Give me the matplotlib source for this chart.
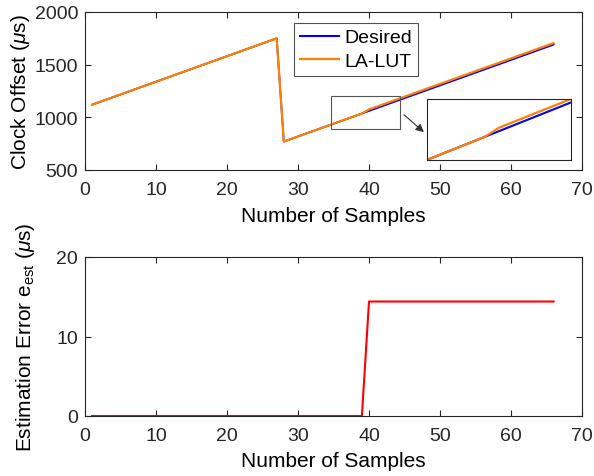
import matplotlib
matplotlib.use("Agg")
import matplotlib.pyplot as plt
from matplotlib.patches import Rectangle, FancyArrowPatch

plt.rcParams['font.family'] = ['Liberation Sans', 'DejaVu Sans']
plt.rcParams['mathtext.fontset'] = 'custom'
plt.rcParams['mathtext.rm'] = 'Liberation Sans'
plt.rcParams['mathtext.it'] = 'Liberation Sans:italic'

# Data (breakpoints of piecewise-linear series)
desired_x = [1, 27, 28, 66]
desired_y = [1120, 1750, 770, 1690]
lalut_x = [1, 27, 28, 39, 40, 66]
lalut_y = [1120, 1750, 770, 1036, 1075, 1705]
err_x = [1, 39, 40, 66]
err_y = [0, 0, 14.4, 14.4]

xticks = [0, 10, 20, 30, 40, 50, 60, 70]
top_yticks = [500, 1000, 1500, 2000]
bot_yticks = [0, 10, 20]

BLUE = '#0000FF'
ORANGE = '#FF8000'
RED = '#FF0000'
AXC = '#262626'

W, H = 594, 477
fig = plt.figure(figsize=(W / 100, H / 100), dpi=100)

def box(l, t, r, b):
    return [l / W, 1 - b / H, (r - l) / W, (b - t) / H]

def style(ax):
    for s in ax.spines.values():
        s.set_color(AXC)
        s.set_linewidth(0.8)
    ax.tick_params(direction='in', top=True, right=True, length=4, width=0.8,
                   colors=AXC, labelcolor='#262626', labelsize=14)
    ax.tick_params(axis='x', pad=8)
    ax.tick_params(axis='y', pad=5)

ax1 = fig.add_axes(box(85, 13, 582, 171))
ax1.plot(desired_x, desired_y, color=BLUE, lw=1.3, label='Desired')
ax1.plot(lalut_x, lalut_y, color=ORANGE, lw=1.6, label='LA-LUT')
ax1.set_xlim(0, 70)
ax1.set_ylim(500, 2000)
ax1.set_xticks(xticks)
ax1.set_yticks(top_yticks)
style(ax1)
ax1.set_xlabel('Number of Samples', fontsize=15, labelpad=6)
ax1.set_ylabel(r'Clock Offset ($\mu$s)', fontsize=15, labelpad=2)
leg = ax1.legend(loc='upper left', bbox_to_anchor=((294 - 85) / 497, (171 - 24) / 158),
                 fontsize=14, frameon=True, fancybox=False, handlelength=2.0,
                 handletextpad=0.3, borderpad=0.3, labelspacing=0.3, borderaxespad=0)
leg.legend_handles[0].set_linewidth(1.5)
leg.get_frame().set_edgecolor(AXC)
leg.get_frame().set_linewidth(0.8)

# zoom box on main axes
ax1.add_patch(Rectangle((34.7, 890), 44.3 - 34.7, 1206 - 890, fill=False,
                        edgecolor='#555555', lw=0.8, zorder=5))

# inset
axi = fig.add_axes(box(427, 100, 571, 161))
axi.plot(desired_x, desired_y, color=BLUE, lw=1.5)
axi.plot(lalut_x, lalut_y, color=ORANGE, lw=1.6)
axi.set_xlim(35, 45)
axi.set_ylim(939, 1196)
axi.set_xticks([])
axi.set_yticks([])
for s in axi.spines.values():
    s.set_color(AXC)
    s.set_linewidth(0.8)

arrow = FancyArrowPatch((402 / W, 1 - 114 / H), (426 / W, 1 - 135 / H),
                        transform=fig.transFigure, arrowstyle='-|>',
                        mutation_scale=12, color='#333333', lw=0.8)
fig.patches.append(arrow)

ax2 = fig.add_axes(box(85, 258, 582, 417))
ax2.plot(err_x, err_y, color=RED, lw=1.5)
ax2.set_xlim(0, 70)
ax2.set_ylim(0, 20)
ax2.set_xticks(xticks)
ax2.set_yticks(bot_yticks)
style(ax2)
ax2.set_xlabel('Number of Samples', fontsize=15, labelpad=5)
ax2.set_ylabel(r'Estimation Error e$_{\rm est}$ ($\mu$s)', fontsize=15, labelpad=14)

fig.savefig('out.png', dpi=100)
